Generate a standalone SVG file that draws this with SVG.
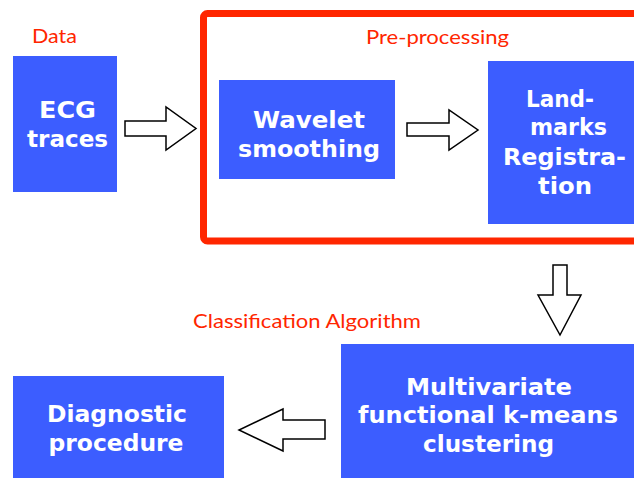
<svg xmlns="http://www.w3.org/2000/svg" width="634" height="478" viewBox="0 0 634 478">
<style>
.box{fill:#3C5DFF}
.t{font-family:"DejaVu Sans","Liberation Sans",sans-serif;font-weight:bold;font-size:23px;fill:#ffffff;text-anchor:middle}
.lbl{font-family:Lato,"Liberation Sans",sans-serif;font-size:20px;fill:#FF2600}
.arr{fill:#ffffff;stroke:#000000;stroke-width:1.5;stroke-linejoin:miter}
</style>
<rect width="634" height="478" fill="#ffffff"/>
<g id="preprocessing-frame">
<rect x="203.5" y="13.5" width="480" height="227.5" rx="4" fill="none" stroke="#FF2600" stroke-width="7"/>
<text class="lbl" x="366" y="43.5" textLength="143" lengthAdjust="spacingAndGlyphs">Pre-processing</text>
</g>
<text id="label-data" class="lbl" x="32" y="43" textLength="45" lengthAdjust="spacingAndGlyphs">Data</text>
<text id="label-classification" class="lbl" x="193" y="328" textLength="228" lengthAdjust="spacingAndGlyphs">Classification Algorithm</text>
<g id="ecg">
<rect class="box" x="13" y="56" width="104" height="136"/>
<text class="t" x="67.5" y="118" textLength="57" lengthAdjust="spacingAndGlyphs">ECG</text>
<text class="t" x="67.5" y="147" textLength="81" lengthAdjust="spacingAndGlyphs">traces</text>
</g>
<g id="wavelet">
<rect class="box" x="219" y="80" width="176" height="99"/>
<text class="t" x="309" y="128" textLength="112" lengthAdjust="spacingAndGlyphs">Wavelet</text>
<text class="t" x="309" y="157" textLength="142" lengthAdjust="spacingAndGlyphs">smoothing</text>
</g>
<g id="landmarks">
<rect class="box" x="488" y="61" width="160" height="163"/>
<text class="t" x="560" y="107" textLength="68" lengthAdjust="spacingAndGlyphs">Land-</text>
<text class="t" x="568.5" y="135" textLength="77" lengthAdjust="spacingAndGlyphs">marks</text>
<text class="t" x="564.5" y="165" textLength="123" lengthAdjust="spacingAndGlyphs">Registra-</text>
<text class="t" x="565" y="194" textLength="54" lengthAdjust="spacingAndGlyphs">tion</text>
</g>
<g id="kmeans">
<rect class="box" x="341" y="344" width="300" height="140"/>
<text class="t" x="489" y="395" textLength="166" lengthAdjust="spacingAndGlyphs">Multivariate</text>
<text class="t" x="488" y="423" textLength="260" lengthAdjust="spacingAndGlyphs">functional k-means</text>
<text class="t" x="488.5" y="452" textLength="131" lengthAdjust="spacingAndGlyphs">clustering</text>
</g>
<g id="diagnostic">
<rect class="box" x="13" y="376" width="211" height="108"/>
<text class="t" x="117" y="422" textLength="140" lengthAdjust="spacingAndGlyphs">Diagnostic</text>
<text class="t" x="116" y="451" textLength="135" lengthAdjust="spacingAndGlyphs">procedure</text>
</g>
<g id="connectors">
<polygon class="arr" points="125,121 166,121 166,107 196,128.5 166,150 166,136 125,136"/>
<polygon class="arr" points="407,123 449,123 449,110 478,130 449,150 449,136 407,136"/>
<polygon class="arr" points="553,265 567,265 567,295 581,295 560,335 538,295 553,295"/>
<polygon class="arr" points="325,420 283,420 283,409 239,430 283,451 283,439 325,439"/>
</g>
</svg>
